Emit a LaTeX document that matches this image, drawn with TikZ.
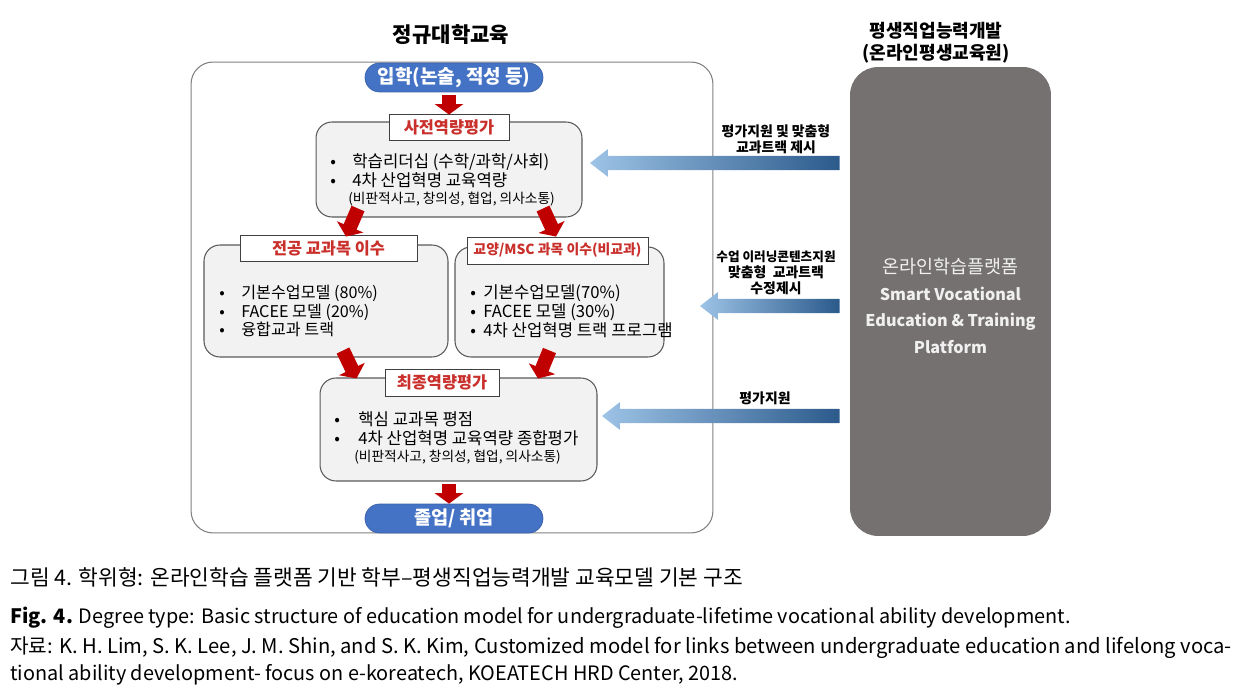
\documentclass[tikz,border=0pt]{standalone}
\usepackage{fontspec}
\setmainfont{Noto Sans CJK KR}
\usepackage{tikz}
\usetikzlibrary{arrows.meta, calc, positioning}
\definecolor{boxgray}{HTML}{F2F2F2}
\definecolor{edgegray}{HTML}{595959}
\definecolor{pillblue}{HTML}{4472C4}
\definecolor{tagred}{HTML}{C9302C}
\definecolor{arrred}{HTML}{C00000}
\definecolor{platgray}{HTML}{767171}
\definecolor{feedL}{HTML}{9DC3E6}
\definecolor{feedR}{HTML}{2B5A8B}
\tikzstyle{stage}=[rectangle, rounded corners=0.32cm, draw=edgegray, fill=boxgray, line width=0.6pt]
\tikzstyle{tag}=[rectangle, draw=black!75, fill=white, line width=0.5pt, text=tagred, inner sep=0pt, font=\bfseries\fontsize{9.3}{11}\selectfont]
\tikzstyle{pill}=[rectangle, rounded corners=0.29cm, fill=pillblue, draw=pillblue!85!black, text=white, minimum width=3.56cm, minimum height=0.58cm, inner sep=0pt]
\tikzstyle{flow}=[draw=arrred, line width=8pt, -{Triangle[width=16pt, length=6pt]}]
\tikzstyle{feed}=[left color=feedL, right color=feedR]
\tikzstyle{note}=[align=center, inner sep=0pt, font=\bfseries\fontsize{7.9}{9}\selectfont]
\tikzstyle{items}=[anchor=west, align=left, inner sep=0pt, font=\fontsize{9.5}{10.8}\selectfont]
\newcommand{\bul}[2][0.44cm]{\makebox[#1][l]{•}#2}
\newcommand{\feedarrow}[2]{\shade[feed] let \p1=(#1), \p2=(#2) in
  (\p1) -- (\x1+10.2pt,\y1+7.9pt) -- (\x1+10.2pt,\y1+4pt) -- (\x2-5.7pt,\y1+4pt)
  -- (\x2-5.7pt,\y1-4pt) -- (\x1+10.2pt,\y1-4pt) -- (\x1+10.2pt,\y1-7.9pt) -- cycle;}

\begin{document}
\begin{tikzpicture}[x=0.02cm, y=-0.02cm]
  \useasboundingbox (0,0) rectangle (1242,696);

  % left column: regular university course
  \node[font=\bfseries\fontsize{12}{14}\selectfont] (unititle) at (451,35) {정규대학교육};
  \node[draw=black!50, rounded corners=0.44cm, line width=0.6pt, minimum width=10.44cm, minimum height=9.42cm] (uni) at (452,297.5) {};

  \node[pill, font=\bfseries\fontsize{10.8}{12}\selectfont] (adm) at (454,77.5) {입학(논술, 적성 등)};

  \node[stage, minimum width=5.32cm, minimum height=1.9cm] (pre) at (449,169.5) {};
  \node[tag, minimum width=2.4cm, minimum height=0.52cm] (preT) at (449,127) {사전역량평가};
  \node[items] (preL) at (330,180) {\bul{학습리더십 (수학/과학/사회)}\\
    \bul{4차 산업혁명 교육역량}\\[-1.5pt]
    \hspace{0.36cm}{\fontsize{7.8}{9}\selectfont(비판적사고, 창의성, 협업, 의사소통)}};

  \node[stage, minimum width=4.88cm, minimum height=2.24cm] (major) at (326,301) {};
  \node[tag, minimum width=3.54cm, minimum height=0.52cm] (majorT) at (328.5,248) {전공 교과목 이수};
  \node[items, font=\fontsize{9.2}{10.6}\selectfont] (majorL) at (219,311) {\bul{기본수업모델 (80\%)}\\\bul{FACEE 모델 (20\%)}\\\bul{융합교과 트랙}};

  \node[stage, minimum width=4.18cm, minimum height=2.2cm] (gen) at (559.5,302) {};
  \node[tag, minimum width=3.62cm, minimum height=0.54cm, font=\bfseries\fontsize{7.9}{10}\selectfont] (genT) at (557.5,250.5) {교양/MSC 과목 이수(비교과)};
  \node[items] (genL) at (470,311) {\bul[0.26cm]{기본수업모델(70\%)}\\\bul[0.26cm]{FACEE 모델 (30\%)}\\\bul[0.26cm]{4차 산업혁명 트랙 프로그램}};

  \node[stage, minimum width=5.54cm, minimum height=2.06cm] (fin) at (458.5,429.5) {};
  \node[tag, minimum width=2.28cm, minimum height=0.54cm] (finT) at (442,382.5) {최종역량평가};
  \node[items] (finL) at (334,438) {\bul[0.48cm]{핵심 교과목 평점}\\
    \bul[0.48cm]{4차 산업혁명 교육역량 종합평가}\\[-1.5pt]
    \hspace{0.4cm}{\fontsize{7.8}{9}\selectfont(비판적사고, 창의성, 협업, 의사소통)}};

  \node[pill, font=\bfseries\fontsize{10.6}{12}\selectfont] (grad) at (454,518.5) {졸업/ 취업};

  % red flow arrows
  \draw[flow] ($(adm.south)+(-5,3)$) -- ($(preT.north)+(0,1)$);
  \draw[flow] ($(pre.south)+(-91,-9)$) -- ($(majorT.north)+(17.5,2)$);
  \draw[flow] ($(pre.south)+(94,-9)$) -- ($(genT.north)+(-1.5,0)$);
  \draw[flow] ($(major.south)+(17,-7)$) -- ($(fin.north)+(-102,1)$);
  \draw[flow] ($(gen.south)+(-10,-7)$) -- ($(fin.north)+(79.5,1)$);
  \draw[flow] ($(grad.north)+(-5,-20)$) -- ($(grad.north)+(-5,0)$);

  % right column: online platform
  \node[align=center, font=\bfseries\fontsize{10.3}{12.5}\selectfont] (lifetitle) at (936,43) {평생직업능력개발\\(온라인평생교육원)};
  \node[fill=platgray, rounded corners=0.56cm, minimum width=4.02cm, minimum height=9.38cm] (plat) at (950.5,301.5) {};
  \node[align=center, text=white!94!black, font=\bfseries\fontsize{9.2}{15.3}\selectfont] (platL) at (950.5,306)
    {{\mdseries\fontsize{10.5}{15.3}\selectfont 온라인학습플랫폼}\\Smart Vocational\\Education \& Training\\Platform};

  % support arrows
  \coordinate (f1) at (590,163);
  \coordinate (f2) at (700,306);
  \coordinate (f3) at (602,416);
  \feedarrow{f1}{plat.west |- f1}
  \feedarrow{f2}{plat.west |- f2}
  \feedarrow{f3}{plat.west |- f3}
  \node[note] (n1) at (776,139) {평가지원 및 맞춤형\\교과트랙 제시};
  \node[note] (n2) at (776,273) {{\fontsize{7.2}{9}\selectfont 수업 이러닝콘텐츠지원}\\맞춤형\ \ 교과트랙\\수정제시};
  \node[note] (n3) at (765,398) {평가지원};

  % caption
  \node[anchor=base west, inner sep=0pt, font=\fontsize{12.2}{14}\selectfont] (cap1) at (10,585) {그림 4. 학위형: 온라인학습 플랫폼 기반 학부–평생직업능력개발 교육모델 기본 구조};
  \node[anchor=base west, inner sep=0pt, font=\fontsize{11.3}{14}\selectfont] (cap2) at (10,623) {\textbf{Fig. 4.} Degree type: Basic structure of education model for undergraduate-lifetime vocational ability development.};
  \node[anchor=base west, inner sep=0pt, font=\fontsize{11.5}{14}\selectfont] (cap3) at (10,653) {자료: K. H. Lim, S. K. Lee, J. M. Shin, and S. K. Kim, Customized model for links between undergraduate education and lifelong voca-};
  \node[anchor=base west, inner sep=0pt, font=\fontsize{11.3}{14}\selectfont] (cap4) at (10,680) {tional ability development- focus on e-koreatech, KOEATECH HRD Center, 2018.};
\end{tikzpicture}
\end{document}
